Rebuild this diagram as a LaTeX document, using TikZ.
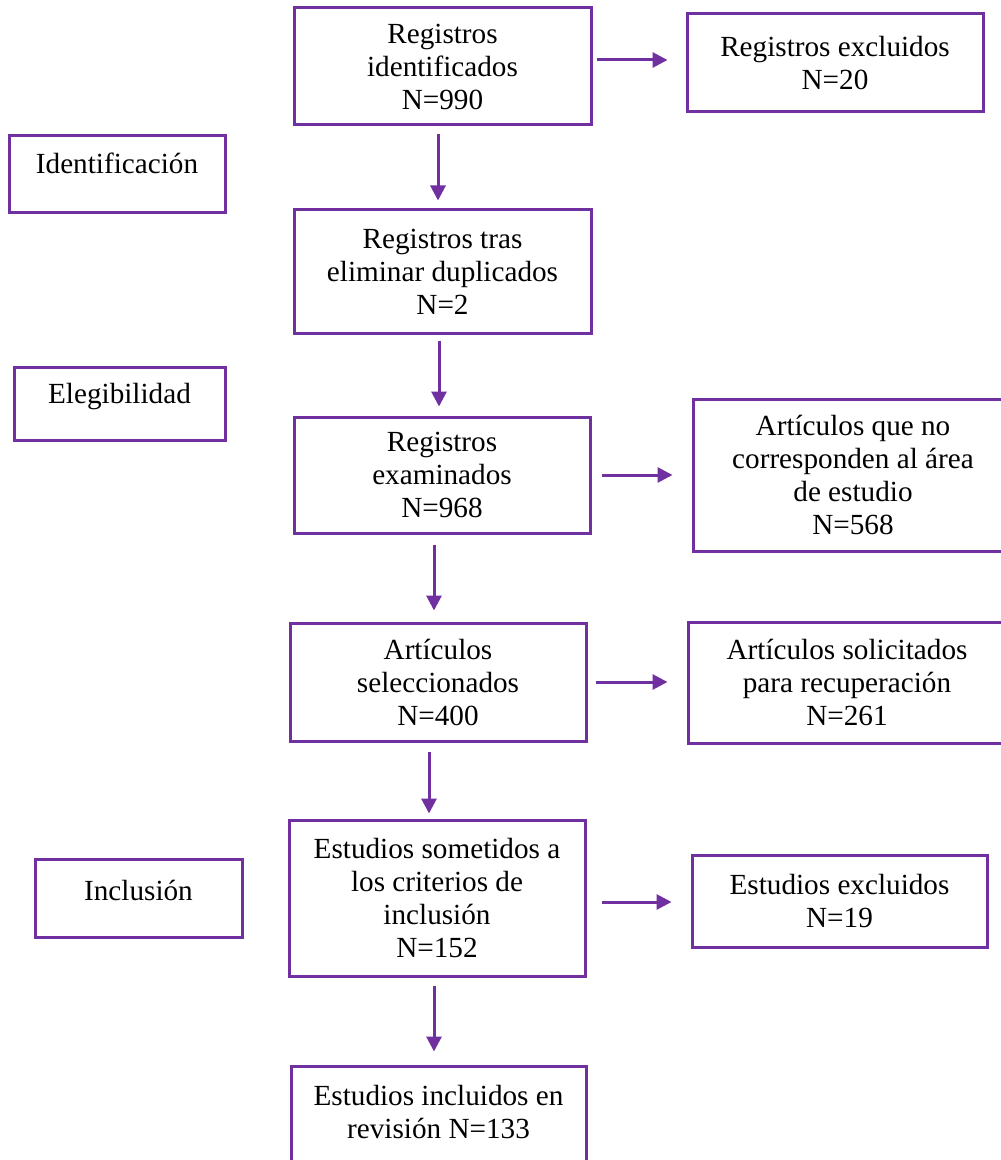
\documentclass[tikz,border=0pt]{standalone}
\usepackage{fontspec}
\setmainfont{Liberation Serif}
\usetikzlibrary{arrows.meta,calc}
\definecolor{purp}{HTML}{7030A0}
\begin{document}
\begin{tikzpicture}[x=0.5pt,y=-0.5pt,
  box/.style={draw=purp, line width=1.5pt, align=center, inner sep=0pt,
    font=\fontsize{14.6pt}{16.5pt}\selectfont},
  txt/.style={align=center, inner sep=0pt, font=\fontsize{14.6pt}{16.5pt}\selectfont},
  arr/.style={draw=purp, line width=1.5pt, -{Triangle[length=7.5pt,width=7.5pt]}}]
\useasboundingbox (0,0) rectangle (1000,1160);
\fill[white] (0,0) rectangle (1000,1160);

\node[box, minimum width=148.5pt, minimum height=58.5pt] (A) at (442.5,66.5) {Registros\\identificados\\N=990};
\node[box, minimum width=148pt, minimum height=49pt] (B) at (835,63) {Registros excluidos\\N=20};
\node[box, minimum width=108pt, minimum height=38.5pt] (Id) at (117,174.5) {};
\node[txt] (Idt) at (117,163) {Identificación};
\node[box, minimum width=148.5pt, minimum height=61.5pt] (C) at (442.5,271.5) {Registros tras\\eliminar duplicados\\N=2};
\node[box, minimum width=105.5pt, minimum height=36.5pt] (El) at (119.5,403.5) {};
\node[txt] (Elt) at (119.5,397) {Elegibilidad};
\node[box, minimum width=148pt, minimum height=58pt] (D) at (442,475) {Registros\\examinados\\N=968};
\node[box, minimum width=160pt, minimum height=76pt] (E) at (853,475) {Artículos que no\\corresponden al área\\de estudio\\N=568};
\node[box, minimum width=148pt, minimum height=59pt] (F) at (438,682) {Artículos\\seleccionados\\N=400};
\node[box, minimum width=159pt, minimum height=60.5pt] (G) at (847,682.5) {Artículos solicitados\\para recuperación\\N=261};
\node[box, minimum width=148pt, minimum height=78pt] (H) at (437,898) {Estudios sometidos a\\los criterios de\\inclusión\\N=152};
\node[box, minimum width=103.5pt, minimum height=39pt] (In) at (138.5,898) {};
\node[txt] (Int) at (138.5,890) {Inclusión};
\node[box, minimum width=147.5pt, minimum height=46pt] (I) at (839.5,901) {Estudios excluidos\\N=19};
\node[box, minimum width=147.5pt, minimum height=57pt] (J) at (438.5,1123) {};
\node[txt] (Jt) at (438.5,1111.5) {Estudios incluidos en\\revisión N=133};

\draw[arr, shorten <=2pt, shorten >=9pt] ($(A.east)+(0,-6.5)$) -- ($(A.east -| B.west)+(0,-6.5)$);
\draw[arr, shorten <=4pt, shorten >=4pt] ($(A.south)+(-4.5,0)$) -- ($(C.north)+(-4.5,0)$);
\draw[arr, shorten <=3pt, shorten >=4.5pt] ($(C.south)+(-3.5,0)$) -- ($(D.north)+(-3,0)$);
\draw[arr, shorten <=5pt, shorten >=9.5pt] (D.east) -- (D.east -| E.west);
\draw[arr, shorten <=5pt, shorten >=5.5pt] ($(D.south)+(-8,0)$) -- ($(F.north)+(-4,0)$);
\draw[arr, shorten <=4pt, shorten >=9.5pt] (F.east) -- (F.east -| G.west);
\draw[arr, shorten <=4.5pt, shorten >=2.5pt] ($(F.south)+(-9,0)$) -- ($(H.north)+(-8,0)$);
\draw[arr, shorten <=7.5pt, shorten >=9.5pt] ($(H.east)+(0,4)$) -- ($(H.east -| I.west)+(0,4)$);
\draw[arr, shorten <=4pt, shorten >=6.5pt] ($(H.south)+(-3,0)$) -- ($(J.north)+(-4.5,0)$);
\end{tikzpicture}
\end{document}
